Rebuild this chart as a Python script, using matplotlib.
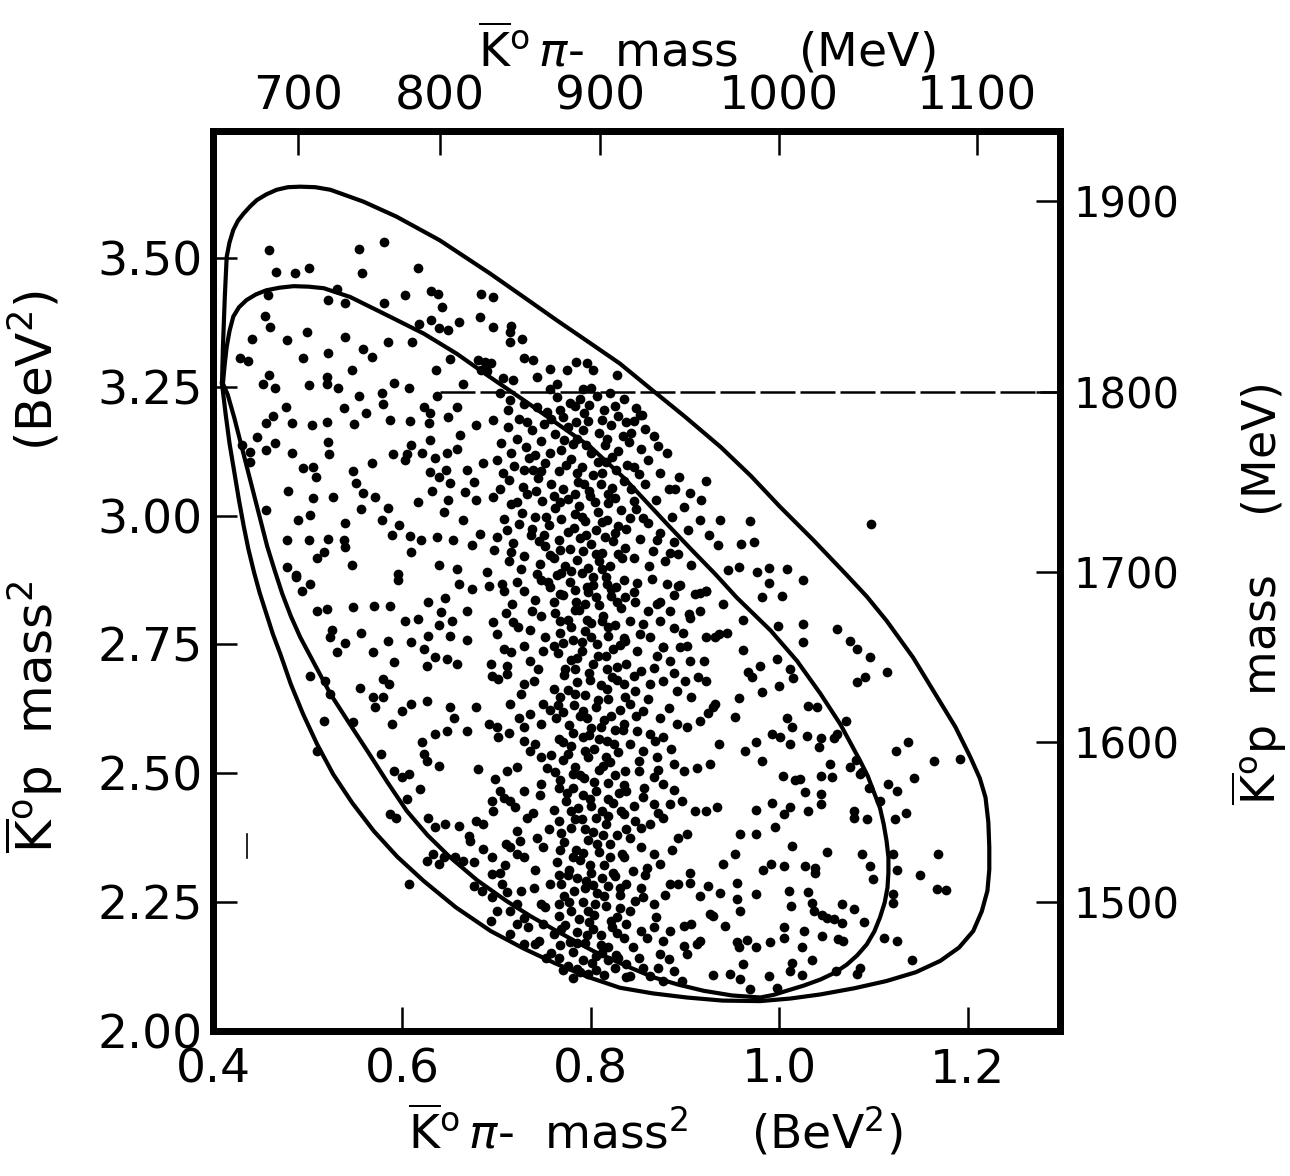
import matplotlib
matplotlib.use("Agg")
import matplotlib.pyplot as plt

plt.rcParams['font.family'] = ['DejaVu Sans']
plt.rcParams['mathtext.fontset'] = 'dejavusans'

# Dalitz plot boundaries (BeV^2)
outer_x = [0.409, 0.410, 0.412, 0.414, 0.417, 0.421, 0.426, 0.432, 0.439, 0.446, 0.456, 0.467,
           0.479, 0.492, 0.508, 0.524, 0.559, 0.594, 0.640, 0.693, 0.729, 0.764, 0.800, 0.831,
           0.863, 0.900, 0.938, 0.970, 1.001, 1.036, 1.070, 1.093, 1.114, 1.142, 1.168, 1.187,
           1.203, 1.213, 1.219, 1.222, 1.223, 1.223, 1.221, 1.215, 1.206, 1.191, 1.171, 1.145,
           1.114, 1.080, 1.044, 1.012, 0.980, 0.940, 0.902, 0.866, 0.831, 0.797, 0.764, 0.729,
           0.694, 0.657, 0.623, 0.595, 0.570, 0.547, 0.527, 0.510, 0.495, 0.482, 0.471, 0.463,
           0.456, 0.449, 0.443, 0.437, 0.432, 0.427, 0.422, 0.417, 0.413, 0.409]
outer_y = [3.256, 3.327, 3.424, 3.502, 3.530, 3.554, 3.572, 3.586, 3.600, 3.612, 3.623, 3.632,
           3.637, 3.638, 3.637, 3.632, 3.609, 3.580, 3.534, 3.470, 3.424, 3.379, 3.334, 3.295,
           3.247, 3.192, 3.133, 3.077, 3.017, 2.953, 2.888, 2.843, 2.796, 2.725, 2.647, 2.590,
           2.531, 2.490, 2.453, 2.405, 2.356, 2.313, 2.272, 2.232, 2.194, 2.162, 2.136, 2.114,
           2.097, 2.083, 2.071, 2.063, 2.058, 2.059, 2.065, 2.073, 2.084, 2.105, 2.130, 2.160,
           2.194, 2.240, 2.291, 2.338, 2.388, 2.443, 2.498, 2.556, 2.615, 2.673, 2.731, 2.770,
           2.810, 2.850, 2.890, 2.935, 2.980, 3.030, 3.085, 3.140, 3.195, 3.256]

inner_x = [0.410, 0.412, 0.414, 0.417, 0.421, 0.427, 0.435, 0.445, 0.456, 0.470, 0.485, 0.501,
           0.517, 0.545, 0.587, 0.623, 0.658, 0.693, 0.729, 0.764, 0.800, 0.836, 0.860, 0.884,
           0.908, 0.932, 0.955, 0.991, 1.019, 1.044, 1.065, 1.086, 1.094, 1.100, 1.107, 1.111,
           1.114, 1.116, 1.116, 1.115, 1.112, 1.107, 1.101, 1.093, 1.083, 1.072, 1.059, 1.044,
           1.026, 1.008, 0.994, 0.980, 0.950, 0.920, 0.893, 0.867, 0.842, 0.803, 0.764, 0.737,
           0.711, 0.680, 0.651, 0.627, 0.605, 0.584, 0.563, 0.543, 0.524, 0.508, 0.492, 0.482,
           0.473, 0.465, 0.457, 0.450, 0.443, 0.436, 0.429, 0.422, 0.415, 0.410]
inner_y = [3.256, 3.295, 3.327, 3.358, 3.386, 3.404, 3.418, 3.429, 3.437, 3.442, 3.445, 3.444,
           3.441, 3.424, 3.386, 3.353, 3.314, 3.269, 3.224, 3.179, 3.133, 3.072, 3.025, 2.978,
           2.932, 2.887, 2.841, 2.777, 2.718, 2.654, 2.595, 2.524, 2.495, 2.466, 2.433, 2.401,
           2.369, 2.337, 2.307, 2.278, 2.249, 2.220, 2.193, 2.168, 2.147, 2.129, 2.113, 2.100,
           2.088, 2.078, 2.070, 2.065, 2.069, 2.078, 2.090, 2.104, 2.123, 2.155, 2.194, 2.222,
           2.252, 2.292, 2.337, 2.380, 2.427, 2.484, 2.544, 2.600, 2.654, 2.709, 2.764, 2.805,
           2.848, 2.893, 2.940, 2.990, 3.040, 3.090, 3.140, 3.190, 3.235, 3.256]

# events, (K0bar pi- mass^2, K0bar p mass^2), read region by region
events_top = [
    (0.459, 3.516), (0.554, 3.518), (0.581, 3.530), (0.466, 3.472), (0.486, 3.470), (0.501, 3.481),
    (0.558, 3.471), (0.617, 3.480), (0.603, 3.428), (0.631, 3.436), (0.638, 3.429), (0.684, 3.430),
    (0.697, 3.423), (0.581, 3.412), (0.642, 3.404), (0.683, 3.386), (0.660, 3.376), (0.631, 3.380),
    (0.639, 3.364), (0.649, 3.360), (0.618, 3.371), (0.716, 3.367), (0.715, 3.357), (0.697, 3.365),
    (0.727, 3.343), (0.715, 3.337), (0.531, 3.439), (0.522, 3.419), (0.539, 3.412), (0.458, 3.428),
    (0.828, 3.272), (0.681, 3.302), (0.688, 3.298), (0.694, 3.295), (0.690, 3.280), (0.684, 3.283),
    (0.729, 3.305), (0.739, 3.302), (0.757, 3.285), (0.785, 3.298), (0.796, 3.295), (0.775, 3.282),
    (0.803, 3.282), (0.707, 3.266), (0.718, 3.263), (0.743, 3.269), (0.665, 3.256), (0.764, 3.256),
    (0.792, 3.246),
]

events_upper_left = [
    (0.455, 3.387), (0.460, 3.365), (0.499, 3.357), (0.478, 3.340), (0.539, 3.346), (0.441, 3.342),
    (0.428, 3.305), (0.437, 3.300), (0.495, 3.306), (0.522, 3.316), (0.559, 3.324), (0.568, 3.308),
    (0.585, 3.336), (0.611, 3.336), (0.547, 3.282), (0.520, 3.269), (0.520, 3.256), (0.459, 3.273),
    (0.453, 3.256), (0.465, 3.247), (0.501, 3.253), (0.532, 3.248), (0.554, 3.232), (0.579, 3.237),
    (0.591, 3.258), (0.607, 3.247), (0.636, 3.283), (0.651, 3.303), (0.637, 3.232), (0.623, 3.211),
    (0.630, 3.198), (0.580, 3.216), (0.538, 3.209), (0.562, 3.199), (0.477, 3.211), (0.463, 3.193),
    (0.456, 3.179), (0.483, 3.180), (0.504, 3.175), (0.520, 3.182), (0.549, 3.177), (0.587, 3.186),
    (0.608, 3.183), (0.629, 3.180), (0.649, 3.192), (0.658, 3.211), (0.662, 3.156), (0.679, 3.175),
    (0.446, 3.153), (0.465, 3.140), (0.456, 3.128), (0.439, 3.124), (0.439, 3.104), (0.483, 3.122),
    (0.521, 3.142), (0.523, 3.120), (0.590, 3.120), (0.605, 3.120), (0.603, 3.107), (0.621, 3.122),
    (0.635, 3.111), (0.648, 3.122), (0.658, 3.130), (0.610, 3.136), (0.630, 3.146), (0.568, 3.102),
    (0.548, 3.087), (0.495, 3.093), (0.506, 3.094), (0.509, 3.074), (0.551, 3.064), (0.630, 3.085),
    (0.639, 3.075), (0.647, 3.088), (0.669, 3.088), (0.686, 3.101), (0.651, 3.063), (0.676, 3.065),
    (0.479, 3.047), (0.506, 3.034), (0.527, 3.036), (0.559, 3.044), (0.571, 3.036), (0.617, 3.026),
    (0.632, 3.048), (0.649, 3.030), (0.667, 3.046), (0.678, 3.030), (0.456, 3.010), (0.502, 3.001),
    (0.556, 3.012), (0.585, 3.015), (0.490, 2.991), (0.539, 2.986), (0.579, 2.992), (0.597, 2.982),
    (0.644, 3.007), (0.665, 2.991), (0.478, 2.952), (0.501, 2.953), (0.522, 2.955), (0.538, 2.952),
    (0.539, 2.939), (0.510, 2.918), (0.517, 2.930), (0.547, 2.904), (0.589, 2.962), (0.608, 2.960),
    (0.620, 2.953), (0.637, 2.959), (0.654, 2.953), (0.683, 2.965), (0.698, 2.934), (0.478, 2.900),
    (0.488, 2.884), (0.596, 2.887), (0.610, 2.930), (0.639, 2.904), (0.658, 2.897), (0.674, 2.942),
    (0.690, 2.891), (0.430, 3.137),
]

events_lower_left = [
    (0.488, 2.880), (0.502, 2.868), (0.494, 2.854), (0.596, 2.874), (0.660, 2.867), (0.674, 2.857),
    (0.692, 2.864), (0.706, 2.867), (0.729, 2.854), (0.747, 2.874), (0.757, 2.861), (0.768, 2.848),
    (0.510, 2.814), (0.520, 2.819), (0.548, 2.823), (0.570, 2.825), (0.587, 2.825), (0.628, 2.832),
    (0.646, 2.840), (0.641, 2.812), (0.669, 2.814), (0.653, 2.796), (0.617, 2.799), (0.603, 2.795),
    (0.639, 2.788), (0.697, 2.793), (0.710, 2.810), (0.717, 2.828), (0.718, 2.793), (0.738, 2.815),
    (0.747, 2.806), (0.526, 2.778), (0.524, 2.765), (0.556, 2.772), (0.539, 2.752),
    (0.531, 2.736), (0.569, 2.736), (0.585, 2.757), (0.609, 2.754), (0.628, 2.767), (0.623, 2.741),
    (0.651, 2.767), (0.669, 2.758), (0.591, 2.715), (0.635, 2.725), (0.648, 2.722), (0.658, 2.712),
    (0.626, 2.709), (0.701, 2.770), (0.708, 2.741), (0.736, 2.777), (0.729, 2.747), (0.750, 2.738),
    (0.502, 2.689), (0.518, 2.679), (0.524, 2.654), (0.555, 2.665), (0.569, 2.647), (0.571, 2.628),
    (0.580, 2.683), (0.586, 2.673), (0.580, 2.647), (0.548, 2.599), (0.517, 2.602), (0.589, 2.595),
    (0.600, 2.621), (0.609, 2.634), (0.626, 2.641), (0.651, 2.628), (0.655, 2.608), (0.669, 2.582),
    (0.648, 2.582), (0.678, 2.628), (0.695, 2.689), (0.702, 2.683), (0.711, 2.692), (0.692, 2.595),
    (0.701, 2.589), (0.702, 2.570), (0.715, 2.634), (0.724, 2.608), (0.729, 2.589), (0.736, 2.615),
    (0.747, 2.595), (0.750, 2.634), (0.740, 2.679), (0.729, 2.673),
    (0.694, 2.712), (0.711, 2.709), (0.736, 2.718), (0.510, 2.544),
    (0.578, 2.537), (0.591, 2.505), (0.600, 2.492), (0.607, 2.498), (0.605, 2.450), (0.619, 2.469),
    (0.621, 2.560), (0.635, 2.576), (0.639, 2.514), (0.623, 2.537), (0.626, 2.524), (0.681, 2.508),
    (0.699, 2.489), (0.711, 2.505), (0.704, 2.466), (0.695, 2.447), (0.697, 2.427), (0.715, 2.447),
    (0.720, 2.434), (0.729, 2.466), (0.747, 2.479), (0.729, 2.563), (0.736, 2.544), (0.747, 2.531),
    (0.754, 2.511), (0.733, 2.414), (0.722, 2.388), (0.715, 2.356), (0.729, 2.337),
    (0.743, 2.375), (0.750, 2.356), (0.587, 2.421), (0.594, 2.414), (0.628, 2.414),
    (0.635, 2.395), (0.646, 2.401), (0.660, 2.398), (0.671, 2.379), (0.672, 2.369), (0.678, 2.408),
    (0.686, 2.401), (0.626, 2.330), (0.639, 2.324), (0.644, 2.337), (0.656, 2.337), (0.665, 2.330),
    (0.676, 2.327), (0.633, 2.343), (0.686, 2.353), (0.695, 2.337), (0.710, 2.362), (0.722, 2.343),
    (0.695, 2.304), (0.704, 2.307), (0.695, 2.259), (0.706, 2.285), (0.711, 2.269), (0.722, 2.246),
    (0.740, 2.278), (0.747, 2.246), (0.729, 2.220), (0.745, 2.175),
    (0.750, 2.207), (0.694, 2.214), (0.676, 2.282), (0.685, 2.272), (0.701, 2.233), (0.715, 2.233),
    (0.715, 2.188), (0.729, 2.168), (0.722, 2.207), (0.607, 2.285),
]

events_band = [
    (0.704, 3.237), (0.715, 3.224), (0.729, 3.217), (0.743, 3.211), (0.754, 3.201), (0.764, 3.230),
    (0.778, 3.219), (0.789, 3.227), (0.807, 3.231), (0.821, 3.238), (0.835, 3.226), (0.814, 3.204),
    (0.793, 3.198), (0.848, 3.209), (0.771, 3.192),
    (0.697, 3.186), (0.712, 3.172), (0.724, 3.188), (0.738, 3.165), (0.751, 3.178), (0.762, 3.158),
    (0.776, 3.171), (0.786, 3.149), (0.797, 3.183), (0.809, 3.161), (0.822, 3.176), (0.834, 3.154),
    (0.846, 3.183), (0.858, 3.168), (0.705, 3.141), (0.731, 3.132), (0.747, 3.144), (0.769, 3.127),
    (0.781, 3.138), (0.801, 3.121), (0.815, 3.136), (0.829, 3.125), (0.841, 3.142), (0.853, 3.129),
    (0.701, 3.108), (0.719, 3.096), (0.735, 3.112), (0.752, 3.101), (0.766, 3.087), (0.779, 3.109),
    (0.791, 3.094), (0.803, 3.079), (0.816, 3.103), (0.827, 3.088), (0.839, 3.099), (0.851, 3.081),
    (0.713, 3.069), (0.728, 3.056), (0.744, 3.073), (0.758, 3.061), (0.771, 3.051), (0.787, 3.066),
    (0.798, 3.048), (0.811, 3.062), (0.823, 3.053), (0.836, 3.067),
    (0.697, 3.036), (0.716, 3.022), (0.733, 3.041), (0.749, 3.029), (0.762, 3.014), (0.776, 3.033),
    (0.788, 3.018), (0.799, 3.037), (0.808, 3.006), (0.819, 3.024), (0.832, 3.011), (0.846, 3.029),
    (0.708, 2.993), (0.724, 2.984), (0.741, 2.998), (0.756, 2.981), (0.769, 2.994), (0.782, 2.976),
    (0.794, 2.989), (0.806, 2.971), (0.817, 2.992), (0.829, 2.979), (0.842, 2.996),
    (0.701, 2.958), (0.718, 2.946), (0.737, 2.962), (0.752, 2.941), (0.766, 2.953), (0.778, 2.936),
    (0.789, 2.957), (0.801, 2.944), (0.812, 2.928), (0.824, 2.951), (0.837, 2.937), (0.713, 2.912),
    (0.729, 2.921), (0.746, 2.906), (0.761, 2.917), (0.773, 2.902), (0.786, 2.914), (0.797, 2.899),
    (0.809, 2.911), (0.821, 2.903), (0.833, 2.918),
    (0.764, 2.884), (0.778, 2.871), (0.791, 2.889), (0.803, 2.866), (0.816, 2.881), (0.827, 2.862),
    (0.771, 2.846), (0.785, 2.833), (0.797, 2.851), (0.809, 2.827), (0.822, 2.843), (0.832, 2.821),
    (0.762, 2.811), (0.776, 2.798), (0.788, 2.816), (0.801, 2.791), (0.813, 2.806), (0.826, 2.787),
    (0.768, 2.772), (0.781, 2.758), (0.794, 2.776), (0.807, 2.751), (0.819, 2.767), (0.831, 2.748),
    (0.765, 2.733), (0.779, 2.719), (0.791, 2.737), (0.803, 2.712), (0.816, 2.728), (0.828, 2.706),
    (0.772, 2.691), (0.786, 2.678), (0.798, 2.695), (0.811, 2.671), (0.823, 2.686), (0.761, 2.664),
    (0.768, 2.648), (0.782, 2.633), (0.794, 2.652), (0.806, 2.628), (0.819, 2.644), (0.831, 2.622),
    (0.763, 2.607), (0.777, 2.594), (0.789, 2.612), (0.801, 2.588), (0.814, 2.603), (0.826, 2.583),
    (0.766, 2.567), (0.779, 2.553), (0.792, 2.571), (0.804, 2.547), (0.817, 2.562), (0.829, 2.541),
    (0.771, 2.526), (0.784, 2.512), (0.797, 2.531), (0.809, 2.507), (0.821, 2.522), (0.762, 2.503),
    (0.768, 2.487), (0.781, 2.472), (0.793, 2.491), (0.806, 2.466), (0.818, 2.482), (0.830, 2.461),
    (0.774, 2.446), (0.787, 2.432), (0.799, 2.451), (0.812, 2.427), (0.824, 2.442), (0.761, 2.428),
    (0.766, 2.407), (0.779, 2.393), (0.791, 2.411), (0.803, 2.386), (0.816, 2.402), (0.828, 2.381),
    (0.772, 2.366), (0.785, 2.352), (0.797, 2.371), (0.809, 2.347), (0.821, 2.362), (0.833, 2.343),
    (0.764, 2.327), (0.777, 2.313), (0.789, 2.331), (0.801, 2.306), (0.814, 2.322), (0.826, 2.301),
    (0.769, 2.286), (0.782, 2.272), (0.795, 2.291), (0.807, 2.267), (0.819, 2.282), (0.831, 2.263),
    (0.767, 2.247), (0.779, 2.233), (0.792, 2.251), (0.804, 2.226), (0.816, 2.242), (0.828, 2.221),
    (0.773, 2.206), (0.786, 2.192), (0.798, 2.211), (0.811, 2.187), (0.823, 2.202), (0.761, 2.188),
    (0.768, 2.167), (0.781, 2.153), (0.794, 2.171), (0.806, 2.146), (0.818, 2.162), (0.829, 2.141),
    (0.776, 2.127), (0.789, 2.114), (0.802, 2.131), (0.814, 2.108), (0.826, 2.122), (0.838, 2.104),
]

events_band_core = [
    (0.757, 3.246), (0.783, 3.212), (0.801, 3.247), (0.826, 3.213), (0.758, 3.187), (0.792, 3.166),
    (0.817, 3.149), (0.843, 3.161), (0.772, 3.146), (0.808, 3.104), (0.786, 3.083), (0.761, 3.038),
    (0.793, 3.061), (0.818, 3.041), (0.843, 3.052), (0.784, 3.003), (0.812, 2.987), (0.753, 2.997),
    (0.795, 2.962), (0.826, 2.966), (0.768, 2.934), (0.806, 2.926), (0.779, 2.893), (0.812, 2.897),
    (0.755, 2.872), (0.796, 2.862), (0.822, 2.858), (0.783, 2.817), (0.806, 2.842), (0.768, 2.795),
    (0.818, 2.783), (0.791, 2.754), (0.761, 2.746), (0.835, 2.762), (0.784, 2.703), (0.808, 2.727),
    (0.776, 2.661), (0.817, 2.663), (0.792, 2.621), (0.771, 2.618), (0.837, 2.648), (0.798, 2.575),
    (0.811, 2.589), (0.776, 2.538), (0.825, 2.556), (0.789, 2.496), (0.813, 2.514), (0.775, 2.462),
    (0.835, 2.478), (0.801, 2.437), (0.784, 2.412), (0.818, 2.418), (0.769, 2.384), (0.807, 2.362),
    (0.838, 2.392), (0.792, 2.346), (0.776, 2.303), (0.812, 2.297), (0.794, 2.278), (0.831, 2.277),
    (0.772, 2.262), (0.805, 2.247), (0.788, 2.218), (0.822, 2.213), (0.766, 2.224), (0.796, 2.186),
    (0.811, 2.166), (0.778, 2.172), (0.835, 2.181), (0.792, 2.138), (0.819, 2.137), (0.767, 2.142),
    (0.806, 2.118), (0.781, 2.103),
    (0.768, 3.205), (0.798, 3.214), (0.812, 3.185), (0.785, 3.182), (0.829, 3.193), (0.757, 3.121),
    (0.795, 3.137), (0.823, 3.113), (0.774, 3.098), (0.812, 3.083), (0.747, 3.086), (0.784, 3.041),
    (0.805, 3.027), (0.826, 3.034), (0.768, 3.026), (0.791, 2.998), (0.815, 2.958), (0.776, 2.968),
    (0.751, 2.962), (0.838, 2.974), (0.792, 2.932), (0.757, 2.924), (0.829, 2.926), (0.769, 2.888),
    (0.803, 2.881), (0.783, 2.856), (0.817, 2.868), (0.761, 2.833), (0.794, 2.828), (0.828, 2.833),
    (0.779, 2.783), (0.812, 2.796), (0.796, 2.797), (0.771, 2.752), (0.801, 2.764), (0.824, 2.742),
    (0.786, 2.724), (0.817, 2.703), (0.773, 2.703), (0.799, 2.681), (0.828, 2.681), (0.784, 2.653),
    (0.808, 2.643), (0.765, 2.632), (0.796, 2.608), (0.822, 2.612), (0.781, 2.578), (0.809, 2.566),
    (0.771, 2.561), (0.834, 2.583), (0.794, 2.543), (0.816, 2.532), (0.781, 2.499), (0.804, 2.483),
    (0.826, 2.497), (0.766, 2.472), (0.792, 2.457), (0.818, 2.451), (0.779, 2.426), (0.806, 2.413),
    (0.832, 2.426), (0.794, 2.392), (0.768, 2.351), (0.813, 2.381), (0.781, 2.337), (0.821, 2.337),
    (0.799, 2.322), (0.767, 2.302), (0.786, 2.297), (0.824, 2.306), (0.803, 2.283), (0.777, 2.251),
    (0.814, 2.262), (0.797, 2.233), (0.831, 2.238), (0.769, 2.197), (0.803, 2.197), (0.828, 2.191),
    (0.786, 2.171), (0.812, 2.151), (0.771, 2.118), (0.797, 2.111), (0.827, 2.147), (0.753, 2.142),
]

events_band_sides = [
    (0.707, 3.083), (0.722, 3.027), (0.739, 3.088), (0.711, 2.972), (0.745, 2.951), (0.726, 2.897),
    (0.708, 2.853), (0.741, 2.836), (0.723, 2.784), (0.752, 2.765), (0.716, 2.736), (0.744, 2.702),
    (0.726, 2.654), (0.757, 2.622), (0.714, 2.578), (0.741, 2.556), (0.758, 2.536), (0.722, 2.513),
    (0.746, 2.457), (0.708, 2.452), (0.739, 2.423), (0.756, 2.391), (0.725, 2.368), (0.709, 2.322),
    (0.741, 2.312), (0.757, 2.286), (0.726, 2.271), (0.752, 2.241), (0.734, 2.201), (0.758, 2.152),
    (0.741, 2.168), (0.786, 2.121),
    (0.712, 3.205), (0.733, 3.181), (0.722, 3.149), (0.741, 3.118), (0.716, 3.121), (0.729, 3.088),
    (0.704, 3.052), (0.742, 3.048), (0.727, 3.004), (0.738, 2.974), (0.716, 2.929), (0.743, 2.887),
    (0.722, 2.872),
    (0.856, 2.996), (0.871, 2.953), (0.884, 2.927), (0.862, 2.903), (0.846, 2.852), (0.861, 2.815),
    (0.889, 2.781), (0.852, 2.771), (0.871, 2.728), (0.846, 2.688), (0.888, 2.694), (0.861, 2.645),
    (0.883, 2.627), (0.848, 2.611), (0.868, 2.563), (0.885, 2.548), (0.851, 2.524), (0.872, 2.507),
    (0.857, 2.472), (0.889, 2.468), (0.846, 2.437), (0.872, 2.422), (0.853, 2.393), (0.886, 2.352),
    (0.858, 2.302), (0.879, 2.263), (0.847, 2.252), (0.869, 2.221), (0.851, 2.142), (0.872, 2.122),
]

events_right = [
    (0.838, 3.182), (0.852, 3.196), (0.867, 3.155), (0.872, 3.135), (0.881, 3.122), (0.861, 3.108),
    (0.846, 3.095), (0.874, 3.083), (0.894, 3.074), (0.858, 3.062), (0.883, 3.052), (0.905, 3.043),
    (0.917, 3.031), (0.869, 3.031), (0.899, 3.017), (0.848, 3.012), (0.886, 2.998), (0.916, 2.991),
    (0.861, 2.985), (0.874, 2.967), (0.903, 2.972), (0.926, 2.963), (0.852, 2.955), (0.889, 2.948),
    (0.935, 2.942), (0.866, 2.931), (0.907, 2.905), (0.879, 2.912), (0.846, 2.918), (0.893, 2.926),
    (0.855, 3.196), (0.923, 3.067), (0.890, 3.052), (0.937, 2.991), (0.969, 2.989), (0.960, 2.944),
    (0.973, 2.948), (0.946, 2.895), (0.958, 2.900), (0.977, 2.891), (0.989, 2.899), (1.008, 2.897),
    (1.025, 2.875), (0.989, 2.870), (0.982, 2.841), (1.003, 2.844), (0.962, 2.797), (0.941, 2.828),
    (0.999, 2.786), (1.025, 2.789), (1.025, 2.754), (1.061, 2.780), (1.075, 2.757), (1.083, 2.741),
    (1.096, 2.726), (1.114, 2.696), (1.091, 2.686), (1.083, 2.677), (0.998, 2.722), (1.012, 2.702),
    (1.015, 2.685), (1.000, 2.670), (1.031, 2.631), (1.040, 2.628), (1.071, 2.602), (1.061, 2.577),
    (1.058, 2.569), (1.044, 2.569), (1.030, 2.573), (1.137, 2.560), (1.124, 2.544), (1.164, 2.523),
    (1.192, 2.528), (1.143, 2.491), (1.116, 2.479), (1.125, 2.466), (1.135, 2.422), (1.123, 2.411),
    (1.093, 2.411), (1.079, 2.427), (1.080, 2.414), (1.107, 2.447), (1.086, 2.498), (1.095, 2.472),
    (1.121, 2.344), (1.125, 2.312), (1.150, 2.303), (1.169, 2.344), (1.168, 2.275), (1.177, 2.273),
    (1.121, 2.265), (1.121, 2.249), (1.111, 2.181), (1.125, 2.174), (1.141, 2.137), (1.086, 2.123),
    (1.083, 2.110),
]

events_lower_right = [
    (0.916, 2.850), (0.923, 2.854), (0.888, 2.846), (0.895, 2.866), (0.874, 2.832), (0.906, 2.802),
    (0.922, 2.764), (0.932, 2.764), (0.936, 2.771), (0.945, 2.773), (0.898, 2.773), (0.877, 2.744),
    (0.902, 2.747), (0.962, 2.740), (0.967, 2.696), (0.971, 2.686), (0.980, 2.709), (0.982, 2.657),
    (0.957, 2.646), (0.953, 2.610), (0.932, 2.635), (0.925, 2.616), (0.936, 2.557), (0.964, 2.544),
    (0.975, 2.560), (0.982, 2.524), (1.012, 2.557), (0.992, 2.576), (1.001, 2.570), (1.008, 2.608),
    (1.014, 2.589), (1.042, 2.550), (1.054, 2.518), (1.075, 2.513), (1.082, 2.526), (1.088, 2.502),
    (1.044, 2.495), (1.056, 2.492), (1.028, 2.463), (1.044, 2.459), (1.044, 2.440), (1.031, 2.427),
    (1.005, 2.421), (1.012, 2.434), (0.993, 2.443), (0.976, 2.428), (1.017, 2.487), (1.022, 2.489),
    (1.004, 2.495), (0.996, 2.395), (0.975, 2.383), (0.959, 2.382), (1.014, 2.359), (1.051, 2.348),
    (1.088, 2.344), (1.096, 2.320), (1.100, 2.295), (1.028, 2.320), (1.038, 2.317), (1.038, 2.307),
    (1.005, 2.320), (0.991, 2.324), (0.983, 2.313), (0.953, 2.343), (0.941, 2.324), (0.906, 2.307),
    (0.884, 2.285), (0.893, 2.286), (0.906, 2.288), (0.925, 2.282), (0.937, 2.267), (0.955, 2.288),
    (0.955, 2.256), (0.916, 2.262), (0.976, 2.265), (1.010, 2.272), (1.031, 2.269), (1.035, 2.249),
    (1.013, 2.243), (1.067, 2.246), (1.079, 2.236), (1.090, 2.212), (1.037, 2.233), (1.045, 2.226),
    (1.051, 2.220), (1.058, 2.217), (1.067, 2.210), (1.005, 2.202), (1.026, 2.194), (0.930, 2.223),
    (0.959, 2.233), (0.943, 2.204), (0.955, 2.172), (0.957, 2.162), (0.966, 2.176), (0.976, 2.162),
    (0.990, 2.172), (1.005, 2.181), (1.024, 2.162), (1.045, 2.185), (1.063, 2.178), (1.068, 2.175),
    (1.035, 2.137), (1.014, 2.131), (0.962, 2.130), (0.930, 2.109), (0.948, 2.110), (0.959, 2.100),
    (0.989, 2.107), (1.012, 2.117), (1.024, 2.109), (1.060, 2.117), (0.899, 2.204), (0.907, 2.208),
    (0.916, 2.175), (0.899, 2.165), (0.883, 2.139), (0.874, 2.149), (0.877, 2.175), (0.897, 2.097),
    (0.969, 2.081), (0.998, 2.084),
    (0.835, 2.874), (0.849, 2.870), (0.865, 2.877), (0.881, 2.867), (0.893, 2.864), (0.911, 2.848),
    (0.922, 2.854), (0.837, 2.841), (0.847, 2.832), (0.870, 2.828), (0.884, 2.815), (0.904, 2.809),
    (0.916, 2.815), (0.842, 2.796), (0.856, 2.789), (0.874, 2.796), (0.837, 2.757), (0.849, 2.738),
    (0.863, 2.764), (0.877, 2.744), (0.895, 2.744), (0.906, 2.718), (0.920, 2.718), (0.838, 2.712),
    (0.853, 2.699), (0.867, 2.705), (0.884, 2.718), (0.900, 2.679), (0.914, 2.686), (0.835, 2.673),
    (0.847, 2.660), (0.863, 2.673), (0.877, 2.679), (0.892, 2.660), (0.907, 2.647), (0.923, 2.679),
    (0.842, 2.634), (0.856, 2.621), (0.874, 2.608), (0.892, 2.595), (0.902, 2.589), (0.916, 2.602),
    (0.930, 2.628), (0.835, 2.595), (0.849, 2.582), (0.863, 2.576), (0.877, 2.570), (0.842, 2.557),
    (0.856, 2.544), (0.870, 2.531), (0.888, 2.518), (0.899, 2.505), (0.913, 2.511), (0.927, 2.518),
    (0.837, 2.505), (0.851, 2.505), (0.867, 2.492), (0.877, 2.479), (0.838, 2.466), (0.856, 2.453),
    (0.867, 2.440), (0.884, 2.440), (0.897, 2.447), (0.911, 2.427), (0.923, 2.427), (0.934, 2.434),
    (0.835, 2.421), (0.847, 2.408), (0.863, 2.401), (0.877, 2.414), (0.893, 2.375), (0.902, 2.382),
    (0.842, 2.375), (0.853, 2.356), (0.867, 2.343), (0.874, 2.324), (0.835, 2.337), (0.845, 2.311),
    (0.860, 2.317), (0.838, 2.285), (0.853, 2.278), (0.856, 2.259), (0.867, 2.246), (0.842, 2.233),
    (0.838, 2.207), (0.853, 2.194), (0.867, 2.201), (0.884, 2.194), (0.845, 2.162), (0.860, 2.181),
    (0.838, 2.130), (0.856, 2.123), (0.863, 2.107), (0.842, 2.107), (0.877, 2.097), (0.927, 2.227),
    (0.913, 2.168), (0.902, 2.149), (0.888, 2.117),
]

events_outside = [(1.097, 2.983)]

bottom_ticks = [0.4, 0.6, 0.8, 1.0, 1.2]
left_ticks = [2.00, 2.25, 2.50, 2.75, 3.00, 3.25, 3.50]
top_mev = [700, 800, 900, 1000, 1100]
right_mev = [1500, 1600, 1700, 1800, 1900]
cut_y = 3.24            # K0bar p mass = 1800 MeV
cut_x = [0.64, 1.30]

fig = plt.figure(figsize=(12.9, 11.76), dpi=100)
ax = fig.add_axes([0.1655, 0.1233, 0.6562, 0.7653])
ax.set_xlim(0.4, 1.298)
ax.set_ylim(2.0, 3.746)

ax.plot(outer_x, outer_y, color='black', lw=3.0, solid_joinstyle='round')
ax.plot(inner_x, inner_y, color='black', lw=3.0, solid_joinstyle='round')
ax.plot(cut_x, [cut_y, cut_y], color='black', lw=1.8, linestyle=(0, (14, 2)))
ax.plot([0.436, 0.436], [2.336, 2.382], color='black', lw=1.2)

all_events = (events_top + events_upper_left + events_lower_left + events_band
              + events_band_core + events_band_sides + events_right
              + events_lower_right + events_outside)
ex = [p[0] for p in all_events]
ey = [p[1] for p in all_events]
ax.plot(ex, ey, 'o', color='black', ms=7, mec='none')

for s in ax.spines.values():
    s.set_linewidth(5)

ax.set_xticks(bottom_ticks)
ax.set_xticklabels([f'{v:.1f}' for v in bottom_ticks])
ax.set_yticks(left_ticks)
ax.set_yticklabels([f'{v:.2f}' for v in left_ticks])
ax.tick_params(direction='in', length=17, width=1.8, labelsize=34)
ax.tick_params(axis='x', pad=12)
ax.tick_params(axis='y', pad=8)

label_mass2_x = r'$\overline{\mathrm{K}}^{\mathrm{o}}\,\pi$-  mass$^{2}$    (BeV$^{2}$)'
label_mass_x = r'$\overline{\mathrm{K}}^{\mathrm{o}}\,\pi$-  mass    (MeV)'
label_mass2_y = r'$\overline{\mathrm{K}}^{\mathrm{o}}$p  mass$^{2}$        (BeV$^{2}$)'
label_mass_y = r'$\overline{\mathrm{K}}^{\mathrm{o}}$p  mass    (MeV)'
ax.set_xlabel(label_mass2_x, fontsize=34)
ax.xaxis.set_label_coords(0.522, -0.08)
ax.set_ylabel(label_mass2_y, fontsize=36)
ax.yaxis.set_label_coords(-0.175, 0.51)

ax_top = ax.twiny()
ax_top.set_xlim(ax.get_xlim())
ax_top.set_xticks([(m / 1000.0) ** 2 for m in top_mev])
ax_top.set_xticklabels([str(m) for m in top_mev])
ax_top.tick_params(direction='in', length=17, width=1.8, labelsize=34, pad=8)
ax_top.set_xlabel(label_mass_x, fontsize=34)
ax_top.xaxis.set_label_coords(0.583, 1.072)

ax_right = ax.twinx()
ax_right.set_ylim(ax.get_ylim())
ax_right.set_yticks([(m / 1000.0) ** 2 for m in right_mev])
ax_right.set_yticklabels([str(m) for m in right_mev])
ax_right.tick_params(direction='in', length=17, width=1.8, labelsize=30, pad=10)
ax_right.set_ylabel(label_mass_y, fontsize=33)
ax_right.yaxis.set_label_coords(1.2, 0.485)

for a in (ax_top, ax_right):
    for s in a.spines.values():
        s.set_linewidth(5)

fig.savefig('out.png', dpi=100)
